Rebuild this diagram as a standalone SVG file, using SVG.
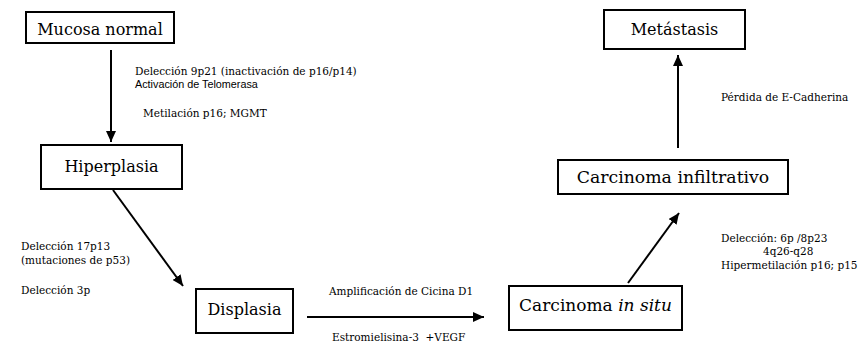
<svg xmlns="http://www.w3.org/2000/svg" width="859" height="345" viewBox="0 0 859 345">
<style>
.box{fill:#fff;stroke:#000;stroke-width:2}
.nt{font-family:"DejaVu Serif","Liberation Serif",serif;font-size:16px;fill:#000;text-anchor:middle}
.lb{font-family:"DejaVu Serif","Liberation Serif",serif;font-size:10.5px;fill:#000}
.sans{font-family:"Liberation Sans",Arial,sans-serif;font-size:10.8px;fill:#000}
.ln{stroke:#000;stroke-width:2;fill:none}
</style>
<defs>
<marker id="ah" markerUnits="userSpaceOnUse" markerWidth="12" markerHeight="10" refX="11" refY="5" orient="auto">
<path d="M0,0 L11,5 L0,10 Z" fill="#000"/>
</marker>
</defs>
<rect width="859" height="345" fill="#fff"/>
<g id="connectors">
<line class="ln" x1="111" y1="50" x2="111" y2="142" marker-end="url(#ah)"/>
<line class="ln" x1="113" y1="190" x2="183" y2="286" marker-end="url(#ah)"/>
<line class="ln" x1="307" y1="317" x2="484" y2="317" marker-end="url(#ah)"/>
<line class="ln" x1="628" y1="283" x2="679" y2="213" marker-end="url(#ah)"/>
<line class="ln" x1="678" y1="148" x2="678" y2="55" marker-end="url(#ah)"/>
</g>
<g id="mucosa">
<rect class="box" x="26" y="12" width="148" height="31"/>
<text class="nt" x="100" y="35">Mucosa normal</text>
</g>
<g id="hiperplasia">
<rect class="box" x="41" y="145" width="141" height="44"/>
<text class="nt" x="111.5" y="172">Hiperplasia</text>
</g>
<g id="displasia">
<rect class="box" x="196" y="289" width="97" height="44"/>
<text class="nt" x="244.5" y="315">Displasia</text>
</g>
<g id="insitu">
<rect class="box" x="509" y="286" width="173" height="44"/>
<text class="nt" x="595.5" y="311" style="font-size:17px">Carcinoma <tspan font-style="italic">in situ</tspan></text>
</g>
<g id="infiltrativo">
<rect class="box" x="558" y="160" width="230" height="34"/>
<text class="nt" x="673" y="183" style="font-size:17.3px">Carcinoma infiltrativo</text>
</g>
<g id="metastasis">
<rect class="box" x="604" y="10" width="141" height="39"/>
<text class="nt" x="674.5" y="35">Metástasis</text>
</g>
<g id="labels">
<text class="lb" x="135" y="75">Delección 9p21 (inactivación de p16/p14)</text>
<text class="sans" x="135" y="88">Activación de Telomerasa</text>
<text class="lb" x="143" y="117">Metilación p16; MGMT</text>
<text class="lb" x="21" y="250">Delección 17p13</text>
<text class="lb" x="21" y="264">(mutaciones de p53)</text>
<text class="lb" x="21" y="294">Delección 3p</text>
<text class="lb" x="329" y="295">Amplificación de Cicina D1</text>
<text class="lb" x="332" y="341" xml:space="preserve">Estromielisina-3  +VEGF</text>
<text class="lb" x="721" y="242">Delección: 6p /8p23</text>
<text class="lb" x="763" y="255">4q26-q28</text>
<text class="lb" x="721" y="269">Hipermetilación p16; p15</text>
<text class="lb" x="721" y="101">Pérdida de E-Cadherina</text>
</g>
</svg>
